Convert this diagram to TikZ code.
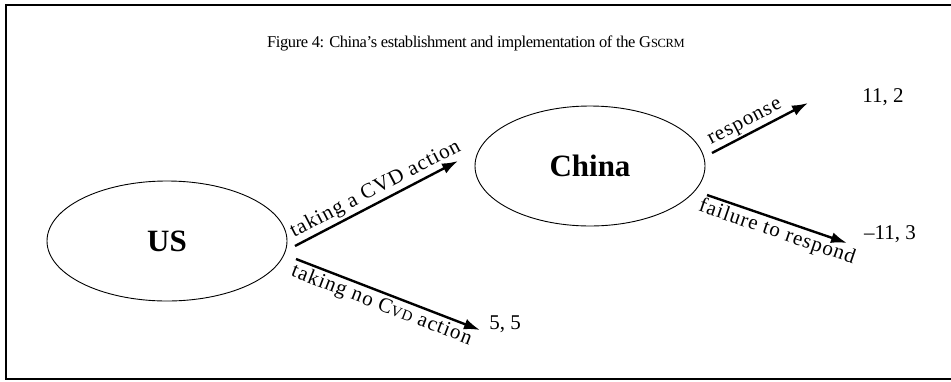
\documentclass[tikz,border=0pt]{standalone}
\usepackage{fontspec}
\setmainfont{Liberation Serif}
\usetikzlibrary{shapes.geometric,arrows.meta}
\newcommand{\fsc}[2]{{\fontsize{#1}{#1}\selectfont #2}}
\begin{document}
\begin{tikzpicture}[x=1pt,y=-1pt,
  player/.style={draw,ellipse,line width=0.9pt,minimum width=240pt,minimum height=120pt,inner sep=0pt,font=\fontsize{31}{33}\selectfont\bfseries},
  move/.style={line width=2.4pt,-{Latex[length=16pt,width=11pt]}},
  lab/.style={font=\fontsize{21}{23}\selectfont\addfontfeatures{LetterSpace=5},sloped,inner sep=2pt},
  pay/.style={font=\fontsize{21}{23}\selectfont,inner sep=0pt}]
\useasboundingbox (0,0) rectangle (951,381);
\draw[line width=2.2pt] (960,5) -- (6,5) -- (6,379) -- (960,379);
\node[font=\fontsize{16.5}{18}\selectfont\addfontfeatures{LetterSpace=-2.5}] (title) at (476,43) {Figure 4: China's establishment and implementation of the G\fsc{12.5}{SCRM}};
\node[player] (us) at (167,241) {US};
\node[player,minimum width=230pt] (china) at (590,166) {China};
\node[pay] (p55) at (505,324) {5, 5};
\node[pay] (p112) at (883,97) {11, 2};
\node[pay] (pm113) at (890,234) {–11, 3};
\coordinate (a1s) at (295,246);
\coordinate (a1e) at (458,161);
\coordinate (a2s) at (296,259);
\coordinate (a2e) at (480,330);
\coordinate (a3s) at (712,153);
\coordinate (a3e) at (808,103);
\coordinate (a4s) at (707,195);
\coordinate (a4e) at (847,243);
\draw[move] (a1s) -- node[lab,above,pos=0.53] {taking a CVD action} (a1e);
\draw[move] (a2s) -- node[lab,below,pos=0.49] {taking no C\fsc{15}{VD} action} (a2e);
\draw[move] (a3s) -- node[lab,above,pos=0.4] {response} (a3e);
\draw[move] (a4s) -- node[lab,below,pos=0.53] {failure to respond} (a4e);
\end{tikzpicture}
\end{document}
